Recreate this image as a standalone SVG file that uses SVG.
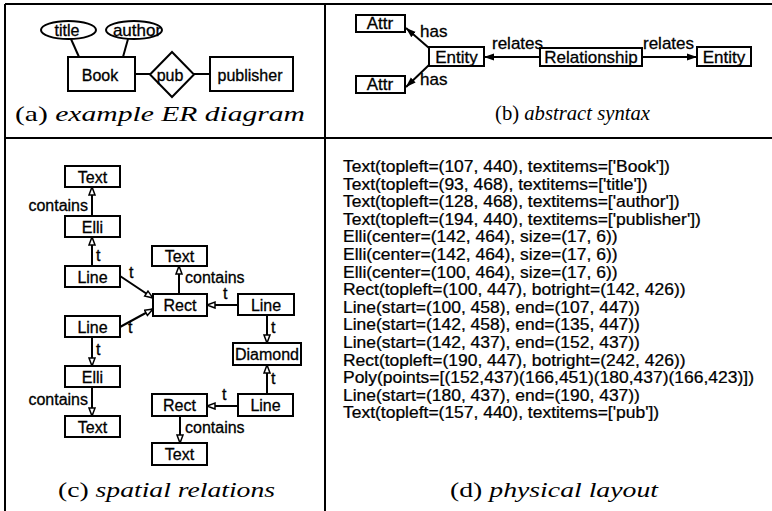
<svg xmlns="http://www.w3.org/2000/svg" width="772" height="511" viewBox="0 0 772 511">
<style>
.bg{fill:#fff}
.frame{stroke:#000;stroke-width:2;fill:none}
.box{fill:#fff;stroke:#000;stroke-width:2}
.ln{stroke:#000;stroke-width:2;fill:none}
.lab{font-family:"Liberation Sans",Arial,sans-serif;font-size:16px;fill:#000;stroke:#000;stroke-width:0.3}
.labb{font-family:"Liberation Sans",Arial,sans-serif;font-size:17px;fill:#000;stroke:#000;stroke-width:0.3}
.mid{text-anchor:middle}
.end{text-anchor:end}
.cap{font-family:"Liberation Serif","Times New Roman",serif;font-size:21px;fill:#000}
.it{font-style:italic}
.code{font-family:"Liberation Sans",Arial,sans-serif;font-size:15.6px;fill:#000;stroke:#000;stroke-width:0.25}
.ca{stroke:#000;stroke-width:2;fill:none;marker-end:url(#open)}
.ba{stroke:#000;stroke-width:2;fill:none;marker-end:url(#solid)}
</style>
<defs>
<marker id="open" markerUnits="userSpaceOnUse" markerWidth="12" markerHeight="10" refX="9" refY="4" orient="auto">
<path d="M1,1 L9,4 L1,7 z" fill="#fff" stroke="#000" stroke-width="1.5"/>
</marker>
<marker id="solid" markerUnits="userSpaceOnUse" markerWidth="12" markerHeight="10" refX="10" refY="4" orient="auto">
<path d="M0,0.5 L10,4 L0,7.5 z" fill="#000"/>
</marker>
</defs>
<rect class="bg" x="0" y="0" width="772" height="511"/>
<g id="frame">
<line class="frame" x1="5" y1="4" x2="772" y2="4"/>
<line class="frame" x1="5" y1="4" x2="5" y2="511"/>
<line class="frame" x1="325" y1="4" x2="325" y2="511"/>
<line class="frame" x1="5" y1="138" x2="772" y2="138"/>
</g>

<!-- Panel (a) -->
<g id="a-connectors">
<line class="ln" x1="71" y1="39" x2="79" y2="57"/>
<line class="ln" x1="128" y1="39" x2="123" y2="57"/>
<line class="ln" x1="135" y1="74" x2="151" y2="74"/>
<line class="ln" x1="194" y1="74" x2="210" y2="74"/>
</g>
<g id="a-title"><ellipse class="box" cx="68.5" cy="30" rx="27.5" ry="9"/><text class="lab mid" x="67" y="36" font-size="17">title</text></g>
<g id="a-author"><ellipse class="box" cx="134" cy="30" rx="28" ry="9"/><text class="lab mid" x="137" y="36" font-size="17" style="font-size:17px">author</text></g>
<g id="a-book"><rect class="box" x="68" y="57" width="67" height="34"/><text class="lab mid" x="100" y="81">Book</text></g>
<g id="a-pub"><polygon class="box" points="150,74.5 172,52 194,74.5 172,97"/><text class="lab mid" x="170" y="81">pub</text></g>
<g id="a-publisher"><rect class="box" x="210" y="57" width="83" height="34"/><text class="lab mid" x="250" y="81">publisher</text></g>
<text class="cap" x="15" y="121" textLength="290" lengthAdjust="spacingAndGlyphs">(a) <tspan class="it">example ER diagram</tspan></text>

<!-- Panel (b) -->
<g id="b-connectors">
<line class="ba" x1="429" y1="48" x2="406" y2="28"/>
<line class="ba" x1="429" y1="65" x2="406" y2="87"/>
<line class="ba" x1="540" y1="57" x2="484" y2="57"/>
<line class="ba" x1="642" y1="57" x2="697" y2="57"/>
<text class="labb" x="420" y="37">has</text>
<text class="labb" x="420" y="85">has</text>
<text class="labb" x="492" y="49">relates</text>
<text class="labb" x="643" y="49">relates</text>
</g>
<g id="b-attr1"><rect class="box" x="356" y="15" width="49" height="17"/><text class="labb mid" x="380" y="29">Attr</text></g>
<g id="b-attr2"><rect class="box" x="356" y="76" width="49" height="17"/><text class="labb mid" x="380" y="90">Attr</text></g>
<g id="b-entity1"><rect class="box" x="429" y="47" width="55" height="19"/><text class="labb mid" x="456.5" y="63">Entity</text></g>
<g id="b-rel"><rect class="box" x="540" y="48" width="102" height="18"/><text class="labb mid" x="591" y="63">Relationship</text></g>
<g id="b-entity2"><rect class="box" x="697" y="47" width="54" height="19"/><text class="labb mid" x="724" y="63">Entity</text></g>
<text class="cap" x="495" y="120" textLength="155" lengthAdjust="spacingAndGlyphs">(b) <tspan class="it">abstract syntax</tspan></text>

<!-- Panel (c) -->
<g id="c-connectors">
<line class="ca" x1="92" y1="216" x2="92" y2="187"/>
<line class="ca" x1="92" y1="266" x2="92" y2="237"/>
<line class="ca" x1="120" y1="276" x2="153" y2="298"/>
<line class="ca" x1="120" y1="327" x2="153" y2="309"/>
<line class="ca" x1="179" y1="294" x2="179" y2="266"/>
<line class="ca" x1="238" y1="305" x2="207" y2="305"/>
<line class="ca" x1="267" y1="315" x2="267" y2="343"/>
<line class="ca" x1="267" y1="394" x2="267" y2="365"/>
<line class="ca" x1="238" y1="406" x2="207" y2="406"/>
<line class="ca" x1="180" y1="416" x2="180" y2="443"/>
<line class="ca" x1="92" y1="337" x2="92" y2="366"/>
<line class="ca" x1="92" y1="387" x2="92" y2="416"/>
<text class="lab end" x="88" y="211">contains</text>
<text class="lab" x="96" y="261">t</text>
<text class="lab" x="129" y="278">t</text>
<text class="lab" x="128" y="333">t</text>
<text class="lab" x="185" y="283">contains</text>
<text class="lab" x="223" y="299">t</text>
<text class="lab" x="271" y="333">t</text>
<text class="lab" x="271" y="384">t</text>
<text class="lab" x="222" y="400">t</text>
<text class="lab" x="185" y="433">contains</text>
<text class="lab" x="96" y="355">t</text>
<text class="lab end" x="88" y="405">contains</text>
</g>
<g id="c-text1"><rect class="box" x="65" y="166" width="55" height="21"/><text class="lab mid" x="92.5" y="183">Text</text></g>
<g id="c-elli1"><rect class="box" x="65" y="216" width="55" height="21"/><text class="lab mid" x="92.5" y="233">Elli</text></g>
<g id="c-line1"><rect class="box" x="65" y="266" width="55" height="21"/><text class="lab mid" x="92.5" y="283">Line</text></g>
<g id="c-line2"><rect class="box" x="65" y="316" width="55" height="21"/><text class="lab mid" x="92.5" y="333">Line</text></g>
<g id="c-elli2"><rect class="box" x="65" y="366" width="55" height="21"/><text class="lab mid" x="92.5" y="383">Elli</text></g>
<g id="c-text2"><rect class="box" x="65" y="416" width="55" height="21"/><text class="lab mid" x="92.5" y="433">Text</text></g>
<g id="c-text3"><rect class="box" x="152" y="246" width="55" height="20"/><text class="lab mid" x="179.5" y="262">Text</text></g>
<g id="c-rect1"><rect class="box" x="153" y="294" width="54" height="22"/><text class="lab mid" x="180" y="311">Rect</text></g>
<g id="c-line3"><rect class="box" x="238" y="294" width="56" height="21"/><text class="lab mid" x="266" y="311">Line</text></g>
<g id="c-diamond"><rect class="box" x="233" y="343" width="68" height="22"/><text class="lab mid" x="267" y="360">Diamond</text></g>
<g id="c-line4"><rect class="box" x="238" y="394" width="55" height="22"/><text class="lab mid" x="265.5" y="411">Line</text></g>
<g id="c-rect2"><rect class="box" x="152" y="394" width="55" height="22"/><text class="lab mid" x="179.5" y="411">Rect</text></g>
<g id="c-text4"><rect class="box" x="152" y="443" width="55" height="22"/><text class="lab mid" x="179.5" y="460">Text</text></g>
<text class="cap" x="58" y="497" textLength="217" lengthAdjust="spacingAndGlyphs">(c) <tspan class="it">spatial relations</tspan></text>

<!-- Panel (d) -->
<g id="d-code" transform="translate(343,0) scale(1.12,1)">
<text class="code" x="0" y="172">Text(topleft=(107, 440), textitems=['Book'])</text>
<text class="code" x="0" y="189.6">Text(topleft=(93, 468), textitems=['title'])</text>
<text class="code" x="0" y="207.2">Text(topleft=(128, 468), textitems=['author'])</text>
<text class="code" x="0" y="224.8">Text(topleft=(194, 440), textitems=['publisher'])</text>
<text class="code" x="0" y="242.4">Elli(center=(142, 464), size=(17, 6))</text>
<text class="code" x="0" y="260">Elli(center=(142, 464), size=(17, 6))</text>
<text class="code" x="0" y="277.6">Elli(center=(100, 464), size=(17, 6))</text>
<text class="code" x="0" y="295.2">Rect(topleft=(100, 447), botright=(142, 426))</text>
<text class="code" x="0" y="312.8">Line(start=(100, 458), end=(107, 447))</text>
<text class="code" x="0" y="330.4">Line(start=(142, 458), end=(135, 447))</text>
<text class="code" x="0" y="348">Line(start=(142, 437), end=(152, 437))</text>
<text class="code" x="0" y="365.6">Rect(topleft=(190, 447), botright=(242, 426))</text>
<text class="code" x="0" y="383.2">Poly(points=[(152,437)(166,451)(180,437)(166,423)])</text>
<text class="code" x="0" y="400.8">Line(start=(180, 437), end=(190, 437))</text>
<text class="code" x="0" y="418.4">Text(topleft=(157, 440), textitems=['pub'])</text>
</g>
<text class="cap" x="450" y="497" textLength="208" lengthAdjust="spacingAndGlyphs">(d) <tspan class="it">physical layout</tspan></text>
</svg>
